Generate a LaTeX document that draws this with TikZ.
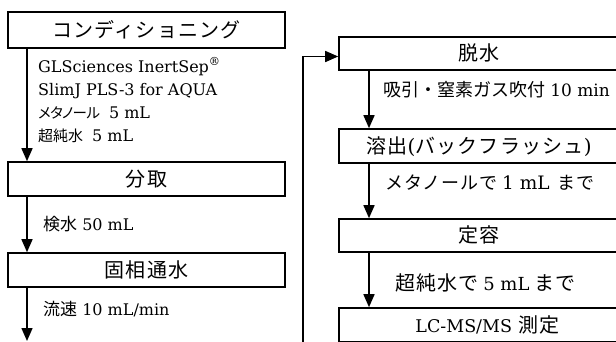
\documentclass[tikz,border=0pt]{standalone}
\usepackage{fontspec}
\setmainfont{DejaVu Serif}
\newfontfamily\jp{Noto Sans CJK JP}
\newfontfamily\jpt[LetterSpace=6]{Noto Sans CJK JP}
\newfontfamily\jpp[CharacterWidth=AlternateProportional,LetterSpace=-4]{Noto Sans CJK JP}
\newfontfamily\jpl[LetterSpace=5]{Noto Sans CJK JP}
\newcommand{\fs}[1]{\fontsize{#1}{#1}\selectfont}
\usetikzlibrary{arrows.meta}
\begin{document}
\begin{tikzpicture}[x=1pt,y=-1pt,
  box/.style={draw,line width=1.6pt,minimum height=34pt,inner sep=0pt,
    text height=14pt,text depth=0pt,font=\fs{20}},
  arr/.style={line width=1.5pt,-{Triangle[width=11pt,length=13pt]}},
  lbl/.style={anchor=base west,inner sep=0pt,font=\fs{16}}]
\useasboundingbox[fill=white] (0,0) rectangle (616,341);
% left column
\node[box,minimum width=277pt,minimum height=36pt] (b1) at (146.5,30) {\jpt コンディショニング};
\node[box,minimum width=277pt] (b2) at (146.5,179) {\jpt 分取};
\node[box,minimum width=277pt] (b3) at (146.5,270) {\jpt 固相通水};
% right column
\node[box,minimum width=280pt,minimum height=33pt] (r1) at (479,53.5) {\jpt 脱水};
\node[box,minimum width=280pt] (r2) at (479,146) {{\jpt 溶出}({\jpt バックフラッシュ})};
\node[box,minimum width=280pt,minimum height=33pt] (r3) at (479,235.5) {\jpt 定容};
\node[box,minimum width=280pt] (r4) at (479,325) {\hspace*{17pt}{\fs{17.5}LC-MS/MS} {\jpt 測定}};
% connectors
\coordinate (lx) at (27,0);
\coordinate (rx) at (369,0);
\coordinate (lend) at (27,341);
\coordinate (loop) at (303,345);
\draw[arr] (b1.south -| lx) -- (b2.north -| lx);
\draw[arr] (b2.south -| lx) -- (b3.north -| lx);
\draw[arr] (b3.south -| lx) -- (lend);
\draw[arr] (loop) |- ([yshift=-3pt]r1.west);
\draw[arr] (r1.south -| rx) -- (r2.north -| rx);
\draw[arr] (r2.south -| rx) -- (r3.north -| rx);
\draw[arr] (r3.south -| rx) -- (r4.north -| rx);
% labels
\node[lbl] (t1) at (38,72) {GLSciences InertSep\textsuperscript{®}};
\node[lbl] (t2) at (38,95) {SlimJ PLS-3 for AQUA};
\node[lbl] (t3) at (38,118) {{\jpp\fs{14.5}メタノール}\hspace{9pt}5 mL};
\node[lbl] (t4) at (38,141) {{\jp\fs{15}超純水}\hspace{9pt}5 mL};
\node[lbl] (t5) at (43,230) {{\jp\fs{17}検水} 50 mL};
\node[lbl] (t6) at (43,315) {{\jp\fs{17}流速} 10 mL/min};
\node[lbl] (t7) at (383,96) {{\jp\fs{18}吸引・窒素ガス吹付} {\fs{17}10 min}};
\node[lbl] (t8) at (385,189) {{\jpl\fs{18}メタノールで}\hspace{5pt}{\fs{18.5}1 mL}\hspace{8pt}{\jpl\fs{18}まで}};
\node[lbl] (t9) at (395,290) {{\jpl\fs{20}超純水で} {\fs{18}5 mL} {\jpl\fs{20}まで}};
\end{tikzpicture}
\end{document}
